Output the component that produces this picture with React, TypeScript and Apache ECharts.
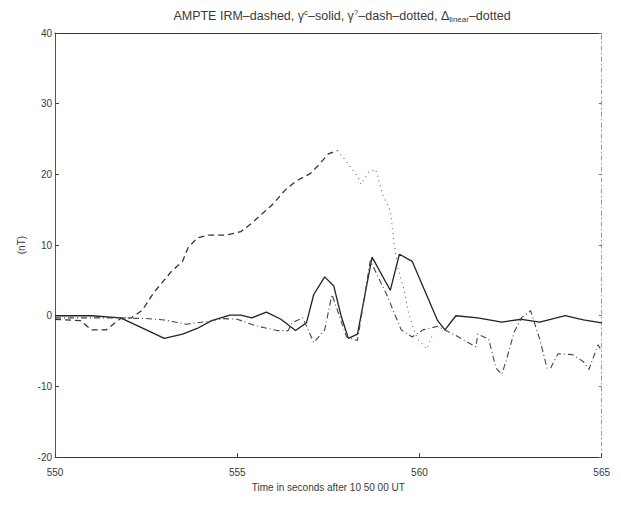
import React, { useEffect, useRef } from "react";
import * as echarts from "echarts";

// IRM (dashed)
const irmT = [550, 550.7, 551.0, 551.4, 551.8, 552.1, 552.4, 552.7, 553.2, 553.5, 553.65, 553.9, 554.2, 554.7, 555.1, 555.4, 555.7, 556.0, 556.3, 556.6, 557.0, 557.25, 557.5, 557.75];
const irmV = [-0.5, -0.7, -2, -2, -0.4, -0.3, 0.8, 3.2, 6.3, 7.7, 9.6, 11, 11.4, 11.4, 11.9, 13.1, 14.5, 15.9, 17.7, 19, 20.1, 21.4, 22.9, 23.4];

// gamma^c (solid)
const solT = [550, 551.0, 551.8, 552.3, 553.0, 553.5, 553.9, 554.3, 554.8, 555.1, 555.4, 555.8, 556.2, 556.6, 556.9, 557.1, 557.4, 557.65, 557.85, 558.05, 558.3, 558.7, 559.2, 559.45, 559.8, 560.1, 560.5, 560.7, 561.0, 561.6, 562.26, 562.8, 563.3, 564.0, 564.5, 565];
const solV = [0, 0, -0.3, -1.5, -3.2, -2.6, -1.8, -0.7, 0.1, 0.1, -0.3, 0.5, -0.5, -2.1, -1, 3, 5.5, 4.2, 0, -3.2, -2.6, 8.3, 3.6, 8.7, 7.7, 4.1, -0.7, -2, 0, -0.3, -0.9, -0.5, -0.9, 0, -0.6, -1];

// gamma (dash-dotted)
const ddT = [550, 551.8, 552.5, 553.0, 553.6, 554.2, 554.6, 555.0, 555.5, 556.1, 556.4, 556.5, 556.8, 557.1, 557.4, 557.6, 557.8, 558.0, 558.3, 558.65, 559.1, 559.5, 559.8, 560.1, 560.5, 561.0, 561.3, 561.55, 561.6, 561.9, 562.1, 562.26, 562.4, 562.6, 562.8, 563.05, 563.3, 563.5, 563.6, 563.8, 564.2, 564.5, 564.65, 564.9, 565];
const ddV = [-0.3, -0.3, -0.4, -0.6, -1.2, -0.8, -0.4, -0.5, -1.4, -2.1, -2.1, -1, -0.3, -3.8, -2, 3, 0, -3, -3.5, 7.8, 3, -2, -3, -2, -1.5, -2.8, -3.7, -4.4, -2.6, -3.3, -7.4, -8.3, -6, -2.3, -0.3, 0.7, -3.3, -7.4, -7.4, -5.4, -5.5, -6.5, -7.6, -4.1, -5];

// Delta (dotted)
const dotT = [557.75, 558.0, 558.3, 558.4, 558.6, 558.8, 559.0, 559.2, 559.3, 559.4, 559.6, 559.7, 559.8, 559.95, 560.2, 560.35];
const dotV = [23.4, 21.8, 19.7, 18.6, 20.3, 20.7, 17, 14.9, 10.5, 7, 3.2, 0.4, -1.2, -3.3, -4.7, -2.8];

const yTicks = [-20, -10, 0, 10, 20, 30, 40];
const xTicks = [550, 555, 560, 565];

const zip = (t: number[], v: number[]) => t.map((x, i) => [x, v[i]]);

const INK = "#3a3a3a";
const FONT = "Liberation Sans, Arial, sans-serif";

export default function App() {
  const ref = useRef<HTMLDivElement>(null);
  useEffect(() => {
    if (!ref.current) return;
    const chart = echarts.init(ref.current, undefined, { renderer: "svg" });
    chart.setOption({
      animation: false,
      backgroundColor: "#ffffff",
      title: {
        text: "AMPTE IRM–dashed, γ{sup|c}–solid, γ{sup|?}–dash–dotted, Δ{sub|linear}–dotted",
        left: 329,
        top: -5,
        textAlign: "center",
        textStyle: {
          fontFamily: FONT,
          fontSize: 12.5,
          fontWeight: "normal",
          color: INK,
          rich: {
            sup: { fontSize: 8, verticalAlign: "top", padding: [0, 0, 7, 0], color: INK, fontFamily: FONT },
            sub: { fontSize: 8, verticalAlign: "bottom", padding: [7, 0, 0, 0], color: INK, fontFamily: FONT },
          },
        },
      },
      grid: { left: 47, right: 10, top: 25, bottom: 27, containLabel: false },
      xAxis: [
        {
          type: "value",
          min: 550,
          max: 565,
          interval: 5,
          name: "Time in seconds after 10 50 00 UT",
          nameLocation: "middle",
          nameGap: 17,
          nameTextStyle: { fontFamily: FONT, fontSize: 10, color: INK },
          axisLine: { onZero: false, lineStyle: { color: "#333", width: 1 } },
          axisTick: { inside: true, length: 4, lineStyle: { color: "#444" } },
          axisLabel: { fontFamily: FONT, fontSize: 10, color: INK, margin: 10, formatter: (v: number) => (xTicks.includes(v) ? String(v) : "") },
          splitLine: { show: false },
        },
        {
          type: "value",
          position: "top",
          min: 550,
          max: 565,
          interval: 5,
          axisLine: { show: true, onZero: false, lineStyle: { color: "#333", width: 1 } },
          axisTick: { show: false },
          axisLabel: { show: false },
          splitLine: { show: false },
        },
      ],
      yAxis: [
        {
          type: "value",
          min: -20,
          max: 40,
          interval: 10,
          name: "(nT)",
          nameLocation: "middle",
          nameGap: 23,
          nameRotate: 90,
          nameTextStyle: { fontFamily: FONT, fontSize: 10, color: INK },
          axisLine: { show: true, onZero: false, lineStyle: { color: "#555", width: 1 } },
          axisTick: { show: true, inside: true, length: 4, lineStyle: { color: "#444" } },
          axisLabel: { fontFamily: FONT, fontSize: 10, color: INK, margin: 3, formatter: (v: number) => (yTicks.includes(v) ? String(v) : "") },
          splitLine: { show: false },
        },
        {
          type: "value",
          position: "right",
          min: -20,
          max: 40,
          interval: 10,
          axisLine: { show: true, onZero: false, lineStyle: { color: "#999", width: 1, type: [4, 3, 1, 3] } },
          axisTick: { show: true, inside: true, length: 3, lineStyle: { color: "#777" } },
          axisLabel: { show: false },
          splitLine: { show: false },
        },
      ],
      series: [
        {
          name: "IRM",
          type: "line",
          data: zip(irmT, irmV),
          showSymbol: false,
          lineStyle: { color: "#333", width: 1.3, type: [6, 4] },
        },
        {
          name: "gamma_c",
          type: "line",
          data: zip(solT, solV),
          showSymbol: false,
          lineStyle: { color: "#222", width: 1.3, type: "solid" },
        },
        {
          name: "gamma",
          type: "line",
          data: zip(ddT, ddV),
          showSymbol: false,
          lineStyle: { color: "#444", width: 1.1, type: [6, 3, 1, 3] },
        },
        {
          name: "delta",
          type: "line",
          data: zip(dotT, dotV),
          showSymbol: false,
          lineStyle: { color: "#666", width: 1.1, type: [1, 4] },
        },
      ],
    });
    return () => chart.dispose();
  }, []);
  return <div ref={ref} style={{ width: 605, height: 489 }} />;
}
